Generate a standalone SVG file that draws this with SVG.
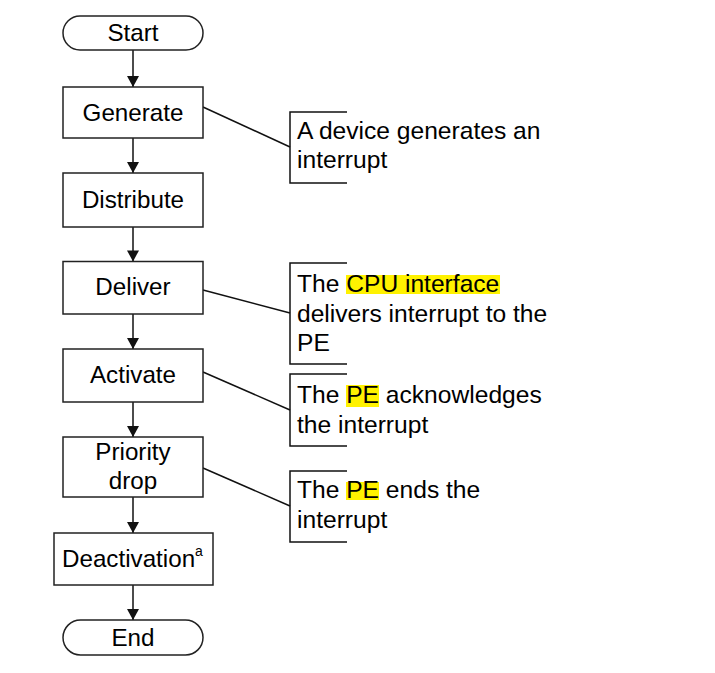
<svg xmlns="http://www.w3.org/2000/svg" width="715" height="673" viewBox="0 0 715 673">
<defs>
<style>
.box{fill:#fff;stroke:#222;stroke-width:1.5}
.t{font-family:"Liberation Sans",Arial,sans-serif;font-size:24.2px;fill:#000}
.n{font-size:24.6px}
.c{text-anchor:middle}
.ln{stroke:#111;stroke-width:1.5;fill:none}
.hl{fill:#FFF200}
.ah{fill:#111}
</style>
<marker id="arr" viewBox="0 0 12 13" refX="12" refY="6.5" markerWidth="13" markerHeight="12" markerUnits="userSpaceOnUse" orient="auto">
<path d="M0,0 L12,6.5 L0,13 Z" class="ah"/>
</marker>
</defs>
<rect width="715" height="673" fill="#fff"/>
<g id="connectors">
<line class="ln" x1="133" y1="50" x2="133" y2="87" marker-end="url(#arr)"/>
<line class="ln" x1="133" y1="138" x2="133" y2="173" marker-end="url(#arr)"/>
<line class="ln" x1="133" y1="227" x2="133" y2="261.5" marker-end="url(#arr)"/>
<line class="ln" x1="133" y1="314" x2="133" y2="349" marker-end="url(#arr)"/>
<line class="ln" x1="133" y1="402" x2="133" y2="437" marker-end="url(#arr)"/>
<line class="ln" x1="133" y1="497" x2="133" y2="533" marker-end="url(#arr)"/>
<line class="ln" x1="133" y1="585" x2="133" y2="620" marker-end="url(#arr)"/>
<line class="ln" x1="203" y1="107" x2="290" y2="147"/>
<line class="ln" x1="203" y1="290" x2="290" y2="313"/>
<line class="ln" x1="203" y1="372" x2="290" y2="410"/>
<line class="ln" x1="203" y1="468" x2="290" y2="506"/>
</g>
<g id="start">
<rect class="box" x="63" y="16" width="140" height="34" rx="17" ry="17"/>
<text class="t c" x="133" y="41">Start</text>
</g>
<g id="generate">
<rect class="box" x="63" y="87" width="140" height="51"/>
<text class="t c" x="133" y="121">Generate</text>
</g>
<g id="distribute">
<rect class="box" x="63" y="173" width="140" height="54"/>
<text class="t c" x="133" y="208">Distribute</text>
</g>
<g id="deliver">
<rect class="box" x="63" y="261.5" width="140" height="52.5"/>
<text class="t c" x="133" y="295">Deliver</text>
</g>
<g id="activate">
<rect class="box" x="63" y="349" width="140" height="53"/>
<text class="t c" x="133" y="383">Activate</text>
</g>
<g id="priority-drop">
<rect class="box" x="63" y="437" width="140" height="60"/>
<text class="t c" x="133" y="460">Priority</text>
<text class="t c" x="133" y="489">drop</text>
</g>
<g id="deactivation">
<rect class="box" x="54" y="533" width="159" height="52"/>
<text class="t" x="62" y="567">Deactivation<tspan font-size="14" dy="-11">a</tspan></text>
</g>
<g id="end">
<rect class="box" x="63" y="620" width="140" height="35" rx="17.5" ry="17.5"/>
<text class="t c" x="133" y="646">End</text>
</g>
<g id="note-generate">
<path class="ln" d="M347,112 H290 V183 H347"/>
<text class="t n" x="297" y="139">A device generates an</text>
<text class="t n" x="297" y="168">interrupt</text>
</g>
<g id="note-deliver">
<path class="ln" d="M347,263 H290 V364 H347"/>
<rect class="hl" x="346" y="275" width="154" height="19"/>
<text class="t n" x="297" y="292">The CPU interface</text>
<text class="t n" x="297" y="322">delivers interrupt to the</text>
<text class="t n" x="297" y="351">PE</text>
</g>
<g id="note-activate">
<path class="ln" d="M347,374 H290 V446 H347"/>
<rect class="hl" x="346" y="385" width="33" height="22"/>
<text class="t n" x="297" y="403">The PE acknowledges</text>
<text class="t n" x="297" y="433">the interrupt</text>
</g>
<g id="note-priority">
<path class="ln" d="M347,471 H290 V542 H347"/>
<rect class="hl" x="346" y="482" width="33" height="18"/>
<text class="t n" x="297" y="498">The PE ends the</text>
<text class="t n" x="297" y="528">interrupt</text>
</g>
</svg>
